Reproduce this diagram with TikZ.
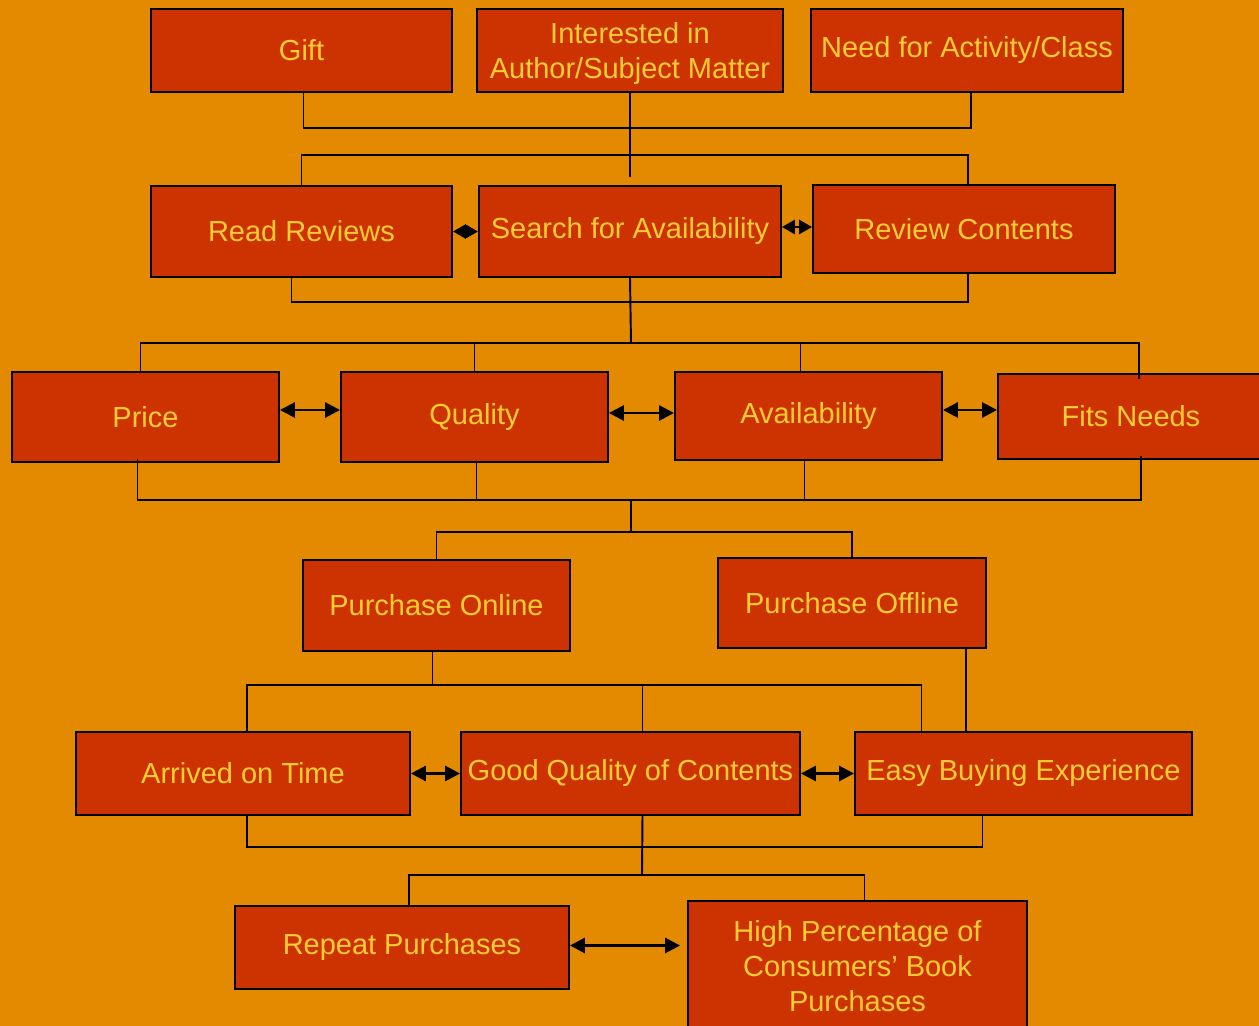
\documentclass[tikz,border=0pt]{standalone}
\usepackage{fontspec}
\setmainfont{Liberation Sans}
\usepackage{xcolor}
\usepackage{tikz}
\usetikzlibrary{arrows.meta,calc}
\definecolor{bgorange}{HTML}{E38A00}
\definecolor{boxred}{HTML}{CC3300}
\definecolor{txtyellow}{HTML}{FFCC33}

\begin{document}
\begin{tikzpicture}[x=0.02cm, y=-0.02cm,
    box/.style={rectangle, draw=black, line width=1.1pt, fill=boxred, text=txtyellow,
        align=center, inner sep=0pt, font=\fontsize{16.5}{20}\selectfont},
    link/.style={draw=black, line width=1.1pt},
    dbl/.style={link, line width=1.6pt, {Triangle[length=0.30cm,width=0.30cm]}-{Triangle[length=0.30cm,width=0.30cm]}},
    dbls/.style={link, line width=1.6pt, {Triangle[length=0.26cm,width=0.28cm]}-{Triangle[length=0.26cm,width=0.28cm]}}
]

% background
\fill[bgorange] (0,0) rectangle (1259,1026);
\useasboundingbox (0,0) rectangle (1259,1026);
\clip (0,0) rectangle (1259,1026);

% Motivation
\node[box, minimum width=6.02cm, minimum height=1.66cm] (gift) at (301.5,50.5) {Gift};
\node[box, minimum width=6.12cm, minimum height=1.66cm, text depth=0pt] (interest) at (630,50.5) {\raisebox{-4pt}{}Interested in\\Author/Subject Matter};
\node[box, minimum width=6.24cm, minimum height=1.66cm] (need) at (967,50.5) {Need for Activity/Class};

% Research
\node[box, minimum width=6.02cm, minimum height=1.82cm] (read) at (301.5,231.5) {Read Reviews};
\node[box, minimum width=6.04cm, minimum height=1.82cm] (search) at (630,231.5) {Search for Availability};
\node[box, minimum width=6.04cm, minimum height=1.76cm] (review) at (964,229) {Review Contents};

% Criteria
\node[box, minimum width=5.34cm, minimum height=1.80cm] (price) at (145.5,417) {Price};
\node[box, minimum width=5.34cm, minimum height=1.80cm] (quality) at (474.5,417) {Quality};
\node[box, minimum width=5.34cm, minimum height=1.76cm] (avail) at (808.5,416) {Availability};
\node[box, minimum width=5.32cm, minimum height=1.70cm] (fits) at (1131,416.5) {Fits Needs};

% Purchase
\node[box, minimum width=5.34cm, minimum height=1.82cm] (online) at (436.5,605.5) {Purchase Online};
\node[box, minimum width=5.36cm, minimum height=1.80cm] (offline) at (852,603) {Purchase Offline};

% Experience
\node[box, minimum width=6.68cm, minimum height=1.66cm] (arrived) at (243,773.5) {Arrived on Time};
\node[box, minimum width=6.78cm, minimum height=1.66cm] (good) at (630.5,773.5) {Good Quality of Contents};
\node[box, minimum width=6.74cm, minimum height=1.66cm] (easy) at (1023.5,773.5) {Easy Buying Experience};

% Outcome
\node[box, minimum width=6.68cm, minimum height=1.66cm] (repeat) at (402,947.5) {Repeat Purchases};
\node[box, minimum width=6.78cm, minimum height=2.60cm] (high) at (857.5,966) {High Percentage of\\Consumers' Book\\Purchases};

% buses between rows
\coordinate (bus1) at (630,128);
\coordinate (split1) at (630,155);
\coordinate (stub1) at (630,177);
\draw[link] ($(gift.south)+(2,0)$) |- (bus1) -| ($(need.south)+(4,0)$);
\draw[link] (interest.south) -- (stub1);
\draw[link] (read.north) |- (split1) -| ($(review.north)+(4,0)$);

\coordinate (bus2) at (631,302);
\coordinate (split2) at (631,343);
\draw[link] ($(read.south)+(-10,0)$) |- (bus2) -| ($(review.south)+(4,0)$);
\draw[link] (search.south) -- (split2);
\draw[link] ($(price.north)+(-5,0)$) |- (split2) -| ($(fits.north)+(8,6)$);
\draw[link] (split2) -| (quality.north);
\draw[link] (split2) -| ($(avail.north)+(-8,0)$);

\coordinate (bus3) at (631,500);
\coordinate (split3) at (631,532);
\draw[link] ($(price.south)+(-8,-4)$) |- (bus3) -| ($(fits.south)+(10,-4)$);
\draw[link] ($(quality.south)+(2,0)$) -- ($(quality.south |- bus3)+(2,0)$);
\draw[link] ($(avail.south)+(-4,-2)$) -- ($(avail.south |- bus3)+(-4,0)$);
\draw[link] (bus3) -- (split3);
\draw[link] (online.north) |- (split3) -| (offline.north);

\coordinate (split4) at ($(online.south |- 0,685)+(-4,0)$);
\coordinate (offdrop) at ($(offline.south east)+(-21,0)$);
\draw[link] ($(online.south)+(-4,0)$) -- (split4);
\draw[link] ($(arrived.north)+(4,0)$) |- (split4) -| ($(easy.north)+(-102,0)$);
\draw[link] (split4) -| ($(good.north)+(12,0)$);
\draw[link] (offdrop) -- (offdrop |- easy.north);

\coordinate (bus5) at (642,847);
\coordinate (split5) at (642,875);
\draw[link] ($(arrived.south)+(4,0)$) |- (bus5) -| ($(easy.south)+(-41,0)$);
\draw[link] ($(good.south)+(12,0)$) -- (split5);
\draw[link] ($(repeat.north)+(7,0)$) |- (split5) -| ($(high.north)+(7,0)$);

% side arrows
\coordinate (revarr) at ($(review.west)+(0,-2)$);
\draw[dbls] (read.east) -- (read.east -| search.west);
\draw[dbls] (revarr -| search.east) -- (revarr);
\draw[dbl] ($(price.east)+(0,-7)$) -- ($(price.east -| quality.west)+(0,-7)$);
\draw[dbl] ($(quality.east)+(0,-4)$) -- ($(quality.east -| avail.west)+(0,-4)$);
\draw[dbl] ($(avail.east)+(0,-6)$) -- ($(avail.east -| fits.west)+(0,-6)$);
\draw[dbl] (arrived.east) -- (arrived.east -| good.west);
\draw[dbl] (good.east) -- (good.east -| easy.west);
\draw[dbl] ($(repeat.east)+(0,-2)$) -- ($(repeat.east -| high.west)+(-7,-2)$);

\end{tikzpicture}
\end{document}
